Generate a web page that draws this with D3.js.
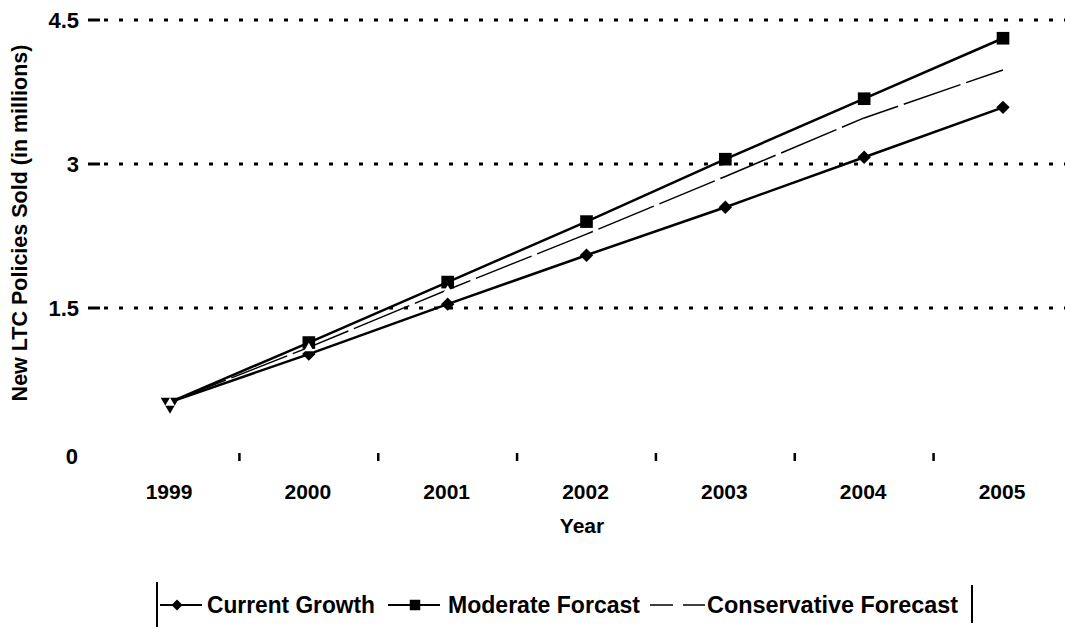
<!DOCTYPE html>
<html><head><meta charset="utf-8">
<script src="https://cdn.jsdelivr.net/npm/d3@7"></script>
<style>body{margin:0;background:#fff}svg{display:block}text{font-family:"Liberation Sans",Arial,sans-serif;font-weight:bold;fill:#000}</style>
</head><body><svg id="c" width="1065" height="627"></svg>
<script>
const years = ["1999","2000","2001","2002","2003","2004","2005"];
const currentGrowth = [0.52, 1.02, 1.54, 2.05, 2.55, 3.07, 3.59];
const moderateForcast = [0.52, 1.14, 1.77, 2.40, 3.05, 3.68, 4.31];
const conservativeForecast = [0.52, 1.09, 1.69, 2.27, 2.87, 3.48, 3.98];
const yTicks = [0, 1.5, 3, 4.5];
const yTickLabels = ["0", "1.5", "3", "4.5"];
const seriesNames = ["Current Growth", "Moderate Forcast", "Conservative Forecast"];

const svg = d3.select("#c");
const x = d3.scalePoint().domain(years).range([170, 1003]);
const y = d3.scaleLinear().domain([0, 4.5]).range([452, 20]);

// gridlines
yTicks.filter(d => d > 0).forEach(t => {
  svg.append("line").attr("x1", 88).attr("x2", 100).attr("y1", y(t)).attr("y2", y(t))
    .attr("stroke", "#000").attr("stroke-width", 3);
  svg.append("line").attr("x1", 104).attr("x2", 1065).attr("y1", y(t)).attr("y2", y(t))
    .attr("stroke", "#000").attr("stroke-width", 3).attr("stroke-dasharray", "4,11");
});
// y tick labels
yTicks.forEach((t, i) => {
  svg.append("text").attr("x", t === 0 ? 78 : 79).attr("y", t === 0 ? y(t) + 12 : y(t) + 8)
    .attr("text-anchor", "end").attr("font-size", 22).text(yTickLabels[i]);
});
// x ticks between categories
const step = x.step();
years.slice(0, -1).forEach(yr => {
  const xx = x(yr) + step / 2;
  svg.append("line").attr("x1", xx).attr("x2", xx).attr("y1", 453).attr("y2", 461)
    .attr("stroke", "#000").attr("stroke-width", 2.5);
});
years.forEach(yr => {
  svg.append("text").attr("x", x(yr) - 1).attr("y", 499).attr("text-anchor", "middle")
    .attr("font-size", 21).text(yr);
});
svg.append("text").attr("x", 582).attr("y", 533).attr("text-anchor", "middle")
  .attr("font-size", 21).text("Year");
svg.append("text").attr("transform", "translate(27,223) rotate(-90)").attr("text-anchor", "middle")
  .attr("font-size", 21.5).text("New LTC Policies Sold (in millions)");

const line = d3.line().x((d, i) => x(years[i])).y(d => y(d));
svg.append("path").datum(conservativeForecast).attr("d", line).attr("fill", "none")
  .attr("stroke", "#000").attr("stroke-width", 1.5).attr("stroke-dasharray", "60,6");
svg.append("path").datum(currentGrowth).attr("d", line).attr("fill", "none")
  .attr("stroke", "#000").attr("stroke-width", 2.5);
svg.append("path").datum(moderateForcast).attr("d", line).attr("fill", "none")
  .attr("stroke", "#000").attr("stroke-width", 2.5);

const diamondPath = d3.symbol().type(d3.symbolSquare).size(90)();
const squarePath = d3.symbol().type(d3.symbolSquare).size(160)();
svg.selectAll(".cg").data(currentGrowth.slice(1)).join("path")
  .attr("d", diamondPath).attr("fill", "#000")
  .attr("transform", (d, i) => `translate(${x(years[i + 1])},${y(d)}) rotate(45)`);
svg.selectAll(".mf").data(moderateForcast.slice(1)).join("path")
  .attr("transform", (d, i) => `translate(${x(years[i + 1])},${y(d)})`)
  .attr("d", squarePath).attr("fill", "#000");
svg.selectAll(".cf").data(conservativeForecast.slice(1, 3)).join("path")
  .attr("transform", (d, i) => `translate(${x(years[i + 1])},${y(d) + 1})`)
  .attr("d", d3.symbol().type(d3.symbolTriangle).size(40)()).attr("fill", "#fff");
svg.append("path").attr("d", d3.symbol().type(d3.symbolTriangle).size(150)())
  .attr("transform", `translate(${x("1999")},${y(currentGrowth[0]) + 1}) rotate(180)`)
  .attr("fill", "#000");
svg.append("path").attr("d", d3.symbol().type(d3.symbolTriangle).size(40)())
  .attr("transform", `translate(${x("1999")},${y(currentGrowth[0]) + 1})`)
  .attr("fill", "#fff");

// legend
const ly = 605;
svg.append("line").attr("x1", 157).attr("x2", 157).attr("y1", 582).attr("y2", 627).attr("stroke", "#000").attr("stroke-width", 2);
svg.append("line").attr("x1", 972).attr("x2", 972).attr("y1", 585).attr("y2", 623).attr("stroke", "#000").attr("stroke-width", 2);
svg.append("line").attr("x1", 160).attr("x2", 202).attr("y1", ly).attr("y2", ly).attr("stroke", "#000").attr("stroke-width", 2);
svg.append("path").attr("d", d3.symbol().type(d3.symbolSquare).size(60)())
  .attr("transform", `translate(177,${ly}) rotate(45)`).attr("fill", "#000");
svg.append("text").attr("x", 207).attr("y", ly + 8).attr("font-size", 23)
  .attr("textLength", 168).attr("lengthAdjust", "spacingAndGlyphs").text(seriesNames[0]);
svg.append("line").attr("x1", 388).attr("x2", 440).attr("y1", ly).attr("y2", ly).attr("stroke", "#000").attr("stroke-width", 2);
svg.append("path").attr("d", d3.symbol().type(d3.symbolSquare).size(110)())
  .attr("transform", `translate(415,${ly})`).attr("fill", "#000");
svg.append("text").attr("x", 448).attr("y", ly + 8).attr("font-size", 23)
  .attr("textLength", 192).attr("lengthAdjust", "spacingAndGlyphs").text(seriesNames[1]);
svg.append("line").attr("x1", 650).attr("x2", 705).attr("y1", ly).attr("y2", ly).attr("stroke", "#000").attr("stroke-width", 1.5).attr("stroke-dasharray", "23,10");
svg.append("text").attr("x", 707).attr("y", ly + 8).attr("font-size", 23)
  .attr("textLength", 251).attr("lengthAdjust", "spacingAndGlyphs").text(seriesNames[2]);
</script></body></html>
